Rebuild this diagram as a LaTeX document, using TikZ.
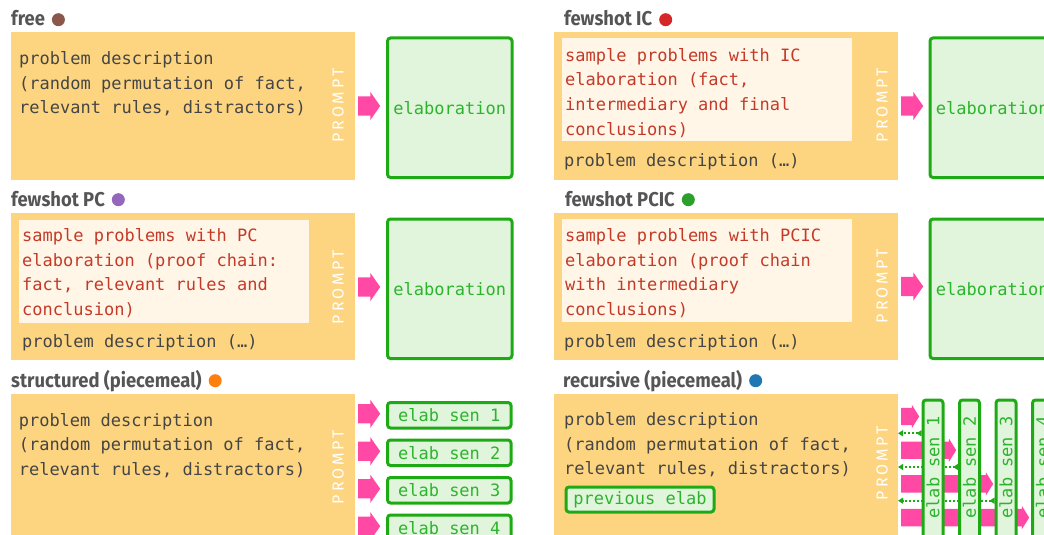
\documentclass[tikz,border=0pt]{standalone}
\usepackage{fontspec}
\setmainfont{Fira Sans}
\newfontfamily\headfont[FakeStretch=0.92]{Fira Sans}
\newfontfamily\codefont{DejaVu Sans Mono}
\usetikzlibrary{shapes.arrows,arrows.meta,calc,backgrounds}
\definecolor{panelc}{HTML}{FDD581}
\definecolor{creamc}{HTML}{FFF6E8}
\definecolor{redtc}{HTML}{C43A28}
\definecolor{graytc}{HTML}{454545}
\definecolor{headc}{HTML}{555555}
\definecolor{gborder}{HTML}{1EAA14}
\definecolor{gfill}{HTML}{E0F5DC}
\definecolor{gtext}{HTML}{2DB42D}
\definecolor{pinkc}{HTML}{FF49A5}
\definecolor{dfree}{HTML}{8C564B}
\definecolor{dic}{HTML}{D62728}
\definecolor{dpc}{HTML}{9467BD}
\definecolor{dpcic}{HTML}{2CA02C}
\definecolor{dstruct}{HTML}{FF7F0E}
\definecolor{drec}{HTML}{1F77B4}
\newcommand\promptword{P\kern2.8pt R\kern2.8pt O\kern2.8pt M\kern2.8pt P\kern2.8pt T}
\begin{document}
\begin{tikzpicture}[x=1pt,y=-1pt,
  panel/.style={fill=panelc, inner sep=0, anchor=north west},
  cream/.style={fill=creamc, inner sep=0, anchor=north west, minimum width=290, minimum height=103},
  head/.style={anchor=base west, inner sep=0, text=headc, font=\headfont\bfseries\fontsize{20}{24}\selectfont},
  hdot/.style={circle, inner sep=0, minimum size=13},
  code/.style={anchor=north west, inner sep=0, align=left, font=\codefont\fontsize{17}{24.7}\selectfont},
  graytext/.style={code, text=graytc},
  redtext/.style={code, text=redtc},
  prompt/.style={rotate=90, text=white, font=\fontsize{16}{18}\selectfont, inner sep=0},
  gbox/.style={draw=gborder, line width=3pt, fill=gfill, rounded corners=3pt, text=gtext, font=\codefont\fontsize{17}{20}\selectfont, inner sep=0, anchor=north west},
  vtext/.style={rotate=90, text=gtext, font=\codefont\fontsize{17}{20}\selectfont, inner sep=0},
  bigarrow/.style={single arrow, fill=pinkc, draw=none, inner xsep=0, inner ysep=9.5, minimum height=22, minimum width=28, single arrow head extend=4.5, single arrow tip angle=110, anchor=tail},
  smallarrow/.style={single arrow, fill=pinkc, draw=none, inner xsep=0, inner ysep=8.5, minimum height=#1, minimum width=23, single arrow head extend=3, single arrow tip angle=116, anchor=tail},
  dotarrow/.style={draw=gborder, line width=2pt, dash pattern=on 2pt off 2pt, arrows={Triangle[length=5pt,width=6pt,reversed]-Triangle[length=5pt,width=6pt]}}
]
\useasboundingbox (0,0) rectangle (1044,535);
\clip (0,0) rectangle (1044,535);

% ---------- row 1 left: free ----------
\node[head] (h1) at (11,26) {free};
\node[hdot, fill=dfree] (d1) at ([xshift=13.3pt,yshift=6.3pt]h1.base east) {};
\node[panel, minimum width=344, minimum height=148] (p1) at (11,32) {};
\node[graytext] (t1) at (19,51.1) {problem description\\(random permutation of fact,\\relevant rules, distractors)};
\node[prompt] (pr1) at (338,105.5) {\promptword};
\node[bigarrow] (a1) at (358,106) {};
\node[gbox, minimum width=124.5, minimum height=139.5] (e1) at (386,36.5) {elaboration};

% ---------- row 1 right: fewshot IC ----------
\node[head] (h2) at (564,26) {fewshot IC};
\node[hdot, fill=dic] (d2) at ([xshift=13.3pt,yshift=6.3pt]h2.base east) {};
\node[panel, minimum width=344, minimum height=148] (p2) at (554,32) {};
\node[cream] (c2) at (562,38) {};
\node[redtext] (r2) at (565,47.8) {sample problems with IC\\elaboration (fact,\\intermediary and final\\conclusions)};
\node[graytext] (g2) at (564,152.8) {problem description (…)};
\node[prompt] (pr2) at (882,105) {\promptword};
\node[bigarrow] (a2) at (901,106) {};
\node[gbox, minimum width=124.5, minimum height=139.5] (e2) at (928.5,36.5) {elaboration};

% ---------- row 2 left: fewshot PC ----------
\node[head] (h3) at (11,206) {fewshot PC};
\node[hdot, fill=dpc] (d3) at ([xshift=13.3pt,yshift=6.3pt]h3.base east) {};
\node[panel, minimum width=344, minimum height=147] (p3) at (11,213) {};
\node[cream] (c3) at (19,219.5) {};
\node[redtext] (r3) at (22,228.3) {sample problems with PC\\elaboration (proof chain:\\fact, relevant rules and\\conclusion)};
\node[graytext] (g3) at (22,334.1) {problem description (…)};
\node[prompt] (pr3) at (338,287) {\promptword};
\node[bigarrow] (a3) at (358,287) {};
\node[gbox, minimum width=124.5, minimum height=139.5] (e3) at (386,217.5) {elaboration};

% ---------- row 2 right: fewshot PCIC ----------
\node[head] (h4) at (565,206) {fewshot PCIC};
\node[hdot, fill=dpcic] (d4) at ([xshift=13.3pt,yshift=6.3pt]h4.base east) {};
\node[panel, minimum width=344, minimum height=147] (p4) at (554,213) {};
\node[cream] (c4) at (562,219) {};
\node[redtext] (r4) at (565,228.3) {sample problems with PCIC\\elaboration (proof chain\\with intermediary\\conclusions)};
\node[graytext] (g4) at (564,334.1) {problem description (…)};
\node[prompt] (pr4) at (882,286) {\promptword};
\node[bigarrow] (a4) at (901,286.5) {};
\node[gbox, minimum width=124.5, minimum height=139.5] (e4) at (928.5,217.5) {elaboration};

% ---------- row 3 left: structured ----------
\node[head] (h5) at (11,387) {structured (piecemeal)};
\node[hdot, fill=dstruct] (d5) at ([xshift=13.3pt,yshift=6.3pt]h5.base east) {};
\node[panel, minimum width=344, minimum height=150] (p5) at (11,394) {};
\node[graytext] (t5) at (18.6,413) {problem description\\(random permutation of fact,\\relevant rules, distractors)};
\node[prompt] (pr5) at (338,467) {\promptword};
\foreach \i/\yy in {1/401,2/438.5,3/476,4/513.5}{
  \node[gbox, minimum width=123.5, minimum height=25.5] (s\i) at (386,\yy) {elab sen \i};
  \node[bigarrow] (sa\i) at (358,\yy+12.75) {};
}

% ---------- row 3 right: recursive ----------
\node[head] (h6) at (563,387) {recursive (piecemeal)};
\node[hdot, fill=drec] (d6) at ([xshift=13.3pt,yshift=6.3pt]h6.base east) {};
\node[panel, minimum width=344, minimum height=150] (p6) at (554,394) {};
\node[graytext] (t6) at (564,412.3) {problem description\\(random permutation of fact,\\relevant rules, distractors)};
\node[gbox, minimum width=148, minimum height=25] (pe) at (564.5,485.5) {previous elab};
\node[prompt] (pr6) at (882,463) {\promptword};

\foreach \i/\xx in {1/921.5,2/958,3/994.5,4/1031}{
  \node[gbox, minimum width=20, minimum height=160] (v\i) at (\xx,398.5) {};
  \node[vtext] (vt\i) at (v\i.north |- 0,467.5) {elab sen \i};
}

\coordinate (q1) at (898,433.3);
\coordinate (q2) at (898,467);
\coordinate (q3) at (898,500.7);

\begin{scope}[on background layer]
  \node[smallarrow=18] (ra1) at (901,416.5) {};
  \node[smallarrow=55] (ra2) at (901,450.2) {};
  \node[smallarrow=92] (ra3) at (901,483.9) {};
  \node[smallarrow=128] (ra4) at (901,517.6) {};
  \draw[dotarrow] (v1.west |- q1) -- (q1);
  \draw[dotarrow] (v2.west |- q2) -- (q2);
  \draw[dotarrow] (v3.west |- q3) -- (q3);
\end{scope}
\end{tikzpicture}
\end{document}
